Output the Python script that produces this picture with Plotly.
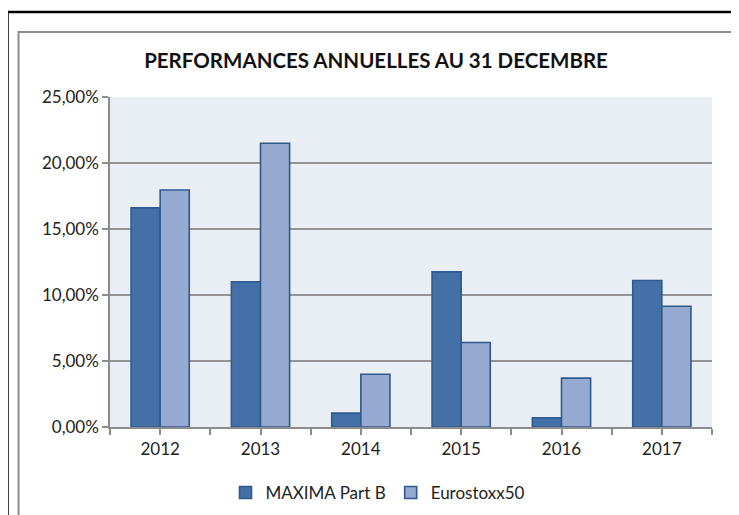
import plotly.graph_objects as go

years = ["2012", "2013", "2014", "2015", "2016", "2017"]
maxima = [0.1660, 0.1100, 0.0105, 0.1175, 0.0070, 0.1110]
eurostoxx = [0.1795, 0.2150, 0.0400, 0.0640, 0.0370, 0.0915]
series_names = ["MAXIMA Part B", "Eurostoxx50"]
y_ticks = [0, 0.05, 0.10, 0.15, 0.20, 0.25]

# page offset (browser body margin)
OFF = 8
W, H = 739 - OFF, 515 - OFF
L, R, T, B = 110 - OFF, 27, 97 - OFF, 88
pw, ph = W - L - R, H - T - B

def px_x(p):  # page pixel -> paper x
    return (p - OFF - L) / pw

def px_y(p):  # page pixel -> paper y
    return (H - B - (p - OFF)) / ph

def cy(p):  # page pixel -> container y
    return 1 - (p - OFF) / H

def cx(p):  # page pixel -> container x
    return (p - OFF) / W

xs = list(range(len(years)))
line_col = "#2f5a8c"

fig = go.Figure()
fig.add_trace(go.Bar(x=xs, y=maxima, name=series_names[0],
                     marker=dict(color="#4371a7", line=dict(color=line_col, width=1.6))))
fig.add_trace(go.Bar(x=xs, y=eurostoxx, name=series_names[1],
                     marker=dict(color="#95a9d1", line=dict(color=line_col, width=1.6))))

font = "Lato, 'Open Sans', sans-serif"
fig.update_layout(
    width=W, height=H,
    margin=dict(l=L, r=R, t=T, b=B),
    paper_bgcolor="white", plot_bgcolor="#e9edf4",
    separators=",.",
    barmode="group", bargap=0.42, bargroupgap=0,
    font=dict(family=font, size=17, color="#222"),
    title=dict(text="<b>PERFORMANCES ANNUELLES AU 31 DECEMBRE</b>",
               x=cx(376), xanchor="center", xref="container",
               y=cy(61), yanchor="middle", yref="container",
               font=dict(family=font, size=20.5, color="#111")),
    legend=dict(orientation="h", x=cx(378), xanchor="center", xref="container",
                y=cy(493), yanchor="middle", yref="container",
                font=dict(size=17), itemwidth=30, bgcolor="rgba(0,0,0,0)"),
    showlegend=True,
)
fig.update_xaxes(
    range=[-0.5, len(years) - 0.5], tickvals=xs, ticktext=years,
    showgrid=False, zeroline=False,
    showline=True, linecolor="#8c8c8c", linewidth=1.5,
    ticks="outside", ticklen=6, tickcolor="#8c8c8c", tickwidth=1.5,
    minor=dict(dtick=0.5, tick0=-0.5, ticks="outside", ticklen=6,
               tickcolor="#8c8c8c", tickwidth=1.5, showgrid=False),
    tickfont=dict(size=17),
)
fig.update_yaxes(
    range=[0, 0.25], tickvals=y_ticks, tickformat=".2%",
    showgrid=True, gridcolor="#939393", gridwidth=1.5,
    zeroline=False,
    showline=True, linecolor="#8c8c8c", linewidth=1.5,
    ticks="outside", ticklen=6, tickcolor="#8c8c8c", tickwidth=1.5,
    tickfont=dict(size=17),
)

# chart frame decorations
fig.add_shape(type="rect", xref="paper", yref="paper",
              x0=px_x(18.5), x1=px_x(733), y0=px_y(560), y1=px_y(32),
              line=dict(color="#8c8c8c", width=2), layer="below")
fig.add_shape(type="rect", xref="paper", yref="paper",
              x0=px_x(7.5), x1=px_x(780), y0=px_y(560), y1=px_y(12),
              line=dict(color="black", width=2.5), layer="below")

fig.write_html("out.html")
